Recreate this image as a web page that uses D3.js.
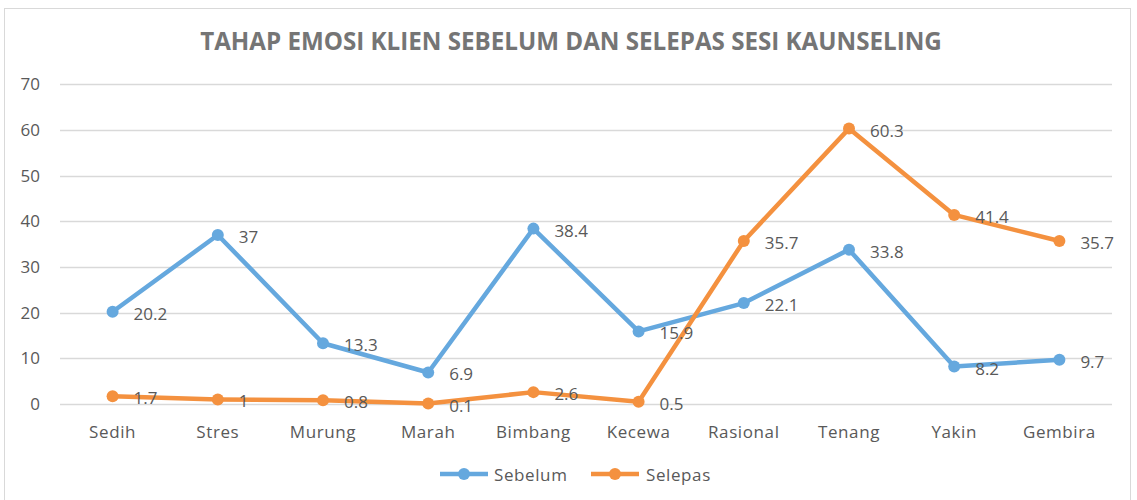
<!DOCTYPE html>
<html><head><meta charset="utf-8">
<script src="https://cdn.jsdelivr.net/npm/d3@7"></script>
<style>body{margin:0;background:#fff}svg{display:block}text{font-family:"Open Sans",sans-serif}</style>
</head><body>
<svg id="c" width="1137" height="500"></svg>
<script>
const categories = ["Sedih","Stres","Murung","Marah","Bimbang","Kecewa","Rasional","Tenang","Yakin","Gembira"];
const sebelum = [20.2,37,13.3,6.9,38.4,15.9,22.1,33.8,8.2,9.7];
const selepas = [1.7,1,0.8,0.1,2.6,0.5,35.7,60.3,41.4,35.7];
const yTicks = [0,10,20,30,40,50,60,70];
const seriesNames = ["Sebelum","Selepas"];
const colors = ["#65A8DE","#F4913F"];
const title = "TAHAP EMOSI KLIEN SEBELUM DAN SELEPAS SESI KAUNSELING";

const svg = d3.select("#c");
svg.append("rect").attr("x",4.5).attr("y",8.5).attr("width",1126).attr("height",495).attr("fill","#fff").attr("stroke","#d9d9d9");

const x = d3.scaleBand().domain(categories).range([60,1112]);
const y = d3.scaleLinear().domain([0,70]).range([404,84.3]);

// gridlines
svg.append("g").selectAll("line").data(yTicks).join("line")
  .attr("x1",60).attr("x2",1112).attr("y1",d=>Math.round(y(d))+0.5).attr("y2",d=>Math.round(y(d))+0.5)
  .attr("stroke","#d9d9d9").attr("stroke-width",1.3);

// y labels
svg.append("g").selectAll("text").data(yTicks).join("text")
  .attr("x",40).attr("y",d=>y(d)+6).attr("text-anchor","end")
  .attr("font-size",17).attr("fill","#595959").text(d=>d);

// x labels
svg.append("g").selectAll("text").data(categories).join("text")
  .attr("x",d=>x(d)+x.bandwidth()/2).attr("y",438).attr("text-anchor","middle")
  .attr("font-size",17).attr("fill","#595959").attr("letter-spacing",0.6).text(d=>d);

// title
const t = svg.append("text").attr("x",571).attr("y",50).attr("text-anchor","middle")
  .attr("font-size",22).attr("font-weight","bold").attr("fill","#757575").text(title);
const w = t.node().getComputedTextLength();
t.attr("font-size",22*742/w);

const line = d3.line().x((d,i)=>x(categories[i])+x.bandwidth()/2).y(d=>y(d));
[sebelum,selepas].forEach((data,si)=>{
  const g = svg.append("g");
  g.append("path").datum(data).attr("d",line).attr("fill","none")
    .attr("stroke",colors[si]).attr("stroke-width",4.5).attr("stroke-linejoin","round");
  g.selectAll("circle").data(data).join("circle")
    .attr("cx",(d,i)=>x(categories[i])+x.bandwidth()/2).attr("cy",d=>y(d)).attr("r",6)
    .attr("fill",colors[si]);
});
[sebelum,selepas].forEach((data)=>{
  svg.append("g").selectAll("text").data(data).join("text")
    .attr("x",(d,i)=>x(categories[i])+x.bandwidth()/2+21).attr("y",d=>y(d)+8)
    .attr("font-size",17).attr("fill","#595959").text(d=>d);
});

// legend
const leg = [[440,494],[591,646]];
seriesNames.forEach((n,i)=>{
  const g = svg.append("g");
  g.append("line").attr("x1",leg[i][0]).attr("x2",leg[i][0]+48).attr("y1",474).attr("y2",474)
    .attr("stroke",colors[i]).attr("stroke-width",4.5);
  g.append("circle").attr("cx",leg[i][0]+24).attr("cy",474).attr("r",6).attr("fill",colors[i]);
  g.append("text").attr("x",leg[i][1]).attr("y",481).attr("font-size",17).attr("fill","#595959")
    .attr("letter-spacing",0.6).text(n);
});
</script>
</body></html>
